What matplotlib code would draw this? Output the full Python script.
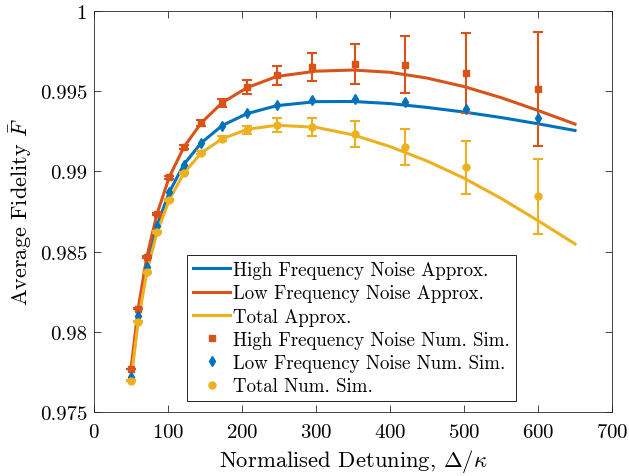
import matplotlib
matplotlib.use("Agg")
import matplotlib.pyplot as plt

plt.rcParams["font.family"] = ["cmr10", "DejaVu Serif"]
plt.rcParams["mathtext.fontset"] = "cm"
plt.rcParams["axes.formatter.use_mathtext"] = True

BLUE = "#0072BD"
ORANGE = "#D95319"
YELLOW = "#EDB120"

# simulation points
x_sim = [50, 59.7, 71.3, 85.2, 101.7, 121.4, 145, 173.2, 206.8, 247, 295, 352.3, 420.7, 502.4, 600]
hf_sim = [0.97768, 0.98143, 0.98465, 0.98735, 0.98964, 0.99151, 0.99303, 0.99428,
          0.99526, 0.99598, 0.9965, 0.99671, 0.99665, 0.99613, 0.99515]
hf_err = [0.00003, 0.00004, 0.00005, 0.00007, 0.00009, 0.00012, 0.00018, 0.00025,
          0.00045, 0.00062, 0.00086, 0.00125, 0.00177, 0.00251, 0.00357]
lf_sim = [0.9772, 0.98097, 0.98403, 0.98662, 0.9887, 0.99043, 0.99178, 0.99286,
          0.99363, 0.99415, 0.99448, 0.99453, 0.99432, 0.9939, 0.99334]
tot_sim = [0.97695, 0.98063, 0.98371, 0.98621, 0.98822, 0.98989, 0.99116, 0.99203,
           0.99261, 0.9929, 0.99276, 0.99234, 0.99151, 0.99026, 0.98846]
tot_err = [0.00002, 0.00003, 0.00004, 0.00005, 0.00006, 0.00008, 0.0001, 0.00015,
           0.00025, 0.00043, 0.00058, 0.00081, 0.00114, 0.00164, 0.00234]

# analytic approximations
x_line = [50, 59.7, 71.3, 85.2, 101.7, 121.4, 145, 173.2, 206.8, 247, 300, 350, 400, 450, 500, 550, 600, 650]
hf_line = [0.9772, 0.98097, 0.98403, 0.98662, 0.9887, 0.99043, 0.99178, 0.99286, 0.9936,
           0.9941, 0.99435, 0.99436, 0.99423, 0.99399, 0.9937, 0.99336, 0.99297, 0.99255]
lf_line = [0.97768, 0.98143, 0.98465, 0.98735, 0.98964, 0.99151, 0.99303, 0.99428, 0.99522,
           0.99592, 0.99625, 0.99632, 0.99618, 0.99582, 0.99529, 0.99460, 0.9938, 0.99295]
tot_line = [0.97695, 0.98063, 0.98371, 0.98621, 0.98822, 0.98989, 0.99116, 0.99203, 0.99262,
            0.99288, 0.99275, 0.99228, 0.99155, 0.99065, 0.98958, 0.98832, 0.98693, 0.98548]

fig = plt.figure(figsize=(6.29, 4.77), dpi=100)
ax = fig.add_axes([0.1494, 0.1342, 0.8236, 0.8406])

ax.plot(x_line, hf_line, color=BLUE, lw=2.2, label="High Frequency Noise Approx.")
ax.plot(x_line, lf_line, color=ORANGE, lw=2.2, label="Low Frequency Noise Approx.")
ax.plot(x_line, tot_line, color=YELLOW, lw=2.2, label="Total Approx.")

ax.errorbar(x_sim, hf_sim, yerr=hf_err, fmt="none", ecolor=ORANGE, elinewidth=1.5, capsize=3.5, capthick=1.5)
ax.errorbar(x_sim, tot_sim, yerr=tot_err, fmt="none", ecolor=YELLOW, elinewidth=1.5, capsize=3.5, capthick=1.5)

ax.plot(x_sim, hf_sim, "s", color=ORANGE, ms=4.5, ls="none", label="High Frequency Noise Num. Sim.")
ax.plot(x_sim, lf_sim, "d", color=BLUE, ms=5.5, ls="none", label="Low Frequency Noise Num. Sim.")
ax.plot(x_sim, tot_sim, "o", color=YELLOW, ms=5, ls="none", label="Total Num. Sim.")

ax.set_xlim(0, 700)
ax.set_ylim(0.975, 1)
ax.set_xticks(range(0, 701, 100))
ax.set_yticks([0.975, 0.98, 0.985, 0.99, 0.995, 1])
ax.set_yticklabels(["0.975", "0.98", "0.985", "0.99", "0.995", "1"])
ax.tick_params(direction="in", top=True, right=True, labelsize=15, length=5, width=0.6, colors="#262626")
ax.tick_params(labelcolor="k")
ax.tick_params(axis="x", pad=8)
ax.tick_params(axis="y", pad=5)
for s in ax.spines.values():
    s.set_linewidth(0.6)
    s.set_color("#262626")

ax.set_xlabel(r"Normalised Detuning, $\Delta/\kappa$", fontsize=16.3, labelpad=4)
ax.set_ylabel(r"Average Fidelity $\bar{F}$", fontsize=16)

leg = ax.legend(loc="lower left", bbox_to_anchor=(0.1795, 0.0275), borderaxespad=0,
                fontsize=13.6, fancybox=False, edgecolor="k", framealpha=1,
                handlelength=2.0, labelspacing=0.28, handletextpad=0.15, borderpad=0.3)
leg.get_frame().set_linewidth(0.6)

fig.savefig("out.png", dpi=100)
